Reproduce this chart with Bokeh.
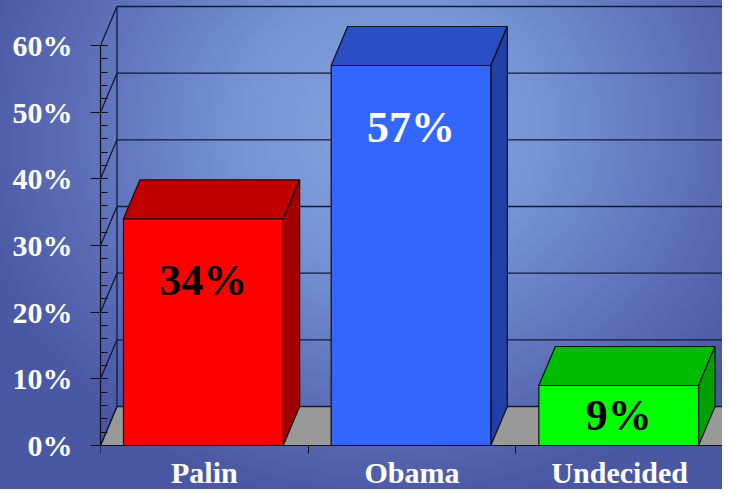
import numpy as np
from bokeh.plotting import figure
from bokeh.models import Range1d, SingleIntervalTicker, FixedTicker, PrintfTickFormatter, ColumnDataSource
from bokeh.core.properties import value
from bokeh.embed import file_html
from bokeh.resources import INLINE

# ---- data ----
categories = ["Palin", "Obama", "Undecided"]
values = [34, 57, 9]
value_labels = ["34%", "57%", "9%"]
y_ticks = [0, 10, 20, 30, 40, 50, 60]

# ---- styles ----
front_colors = ["#FF0000", "#3366FF", "#00FF00"]
top_colors = ["#C00000", "#2A4FC4", "#00BB00"]
side_colors = ["#A00000", "#2240A8", "#00A000"]
label_colors = ["black", "white", "black"]
FONT = "Liberation Serif"

# 3D geometry (depth offset in data units), bar layout
DX = 0.0793
DY = 5.85
BAR_OFF = 0.1106
BAR_W = 0.769
X_END = 2.995
Y_START = -6.6
Y_END = 66.75
Y_MAX = 60

p = figure(width=722, height=489, output_backend="svg", toolbar_location=None,
           x_range=Range1d(0, X_END), y_range=Range1d(Y_START, Y_END),
           min_border_left=100, min_border_right=0, min_border_top=0, min_border_bottom=0)
p.background_fill_color = None
p.border_fill_color = None
p.outline_line_color = None
p.xgrid.visible = False
p.ygrid.visible = False
p.styles = {"background": "radial-gradient(ellipse 430px 380px at 390px 130px, #86a4df 0%, #7694d5 35%, #5b6cb5 75%, #4a57a3 100%)"}

idx = np.arange(len(categories))
vals = np.array(values, dtype=float)
x0 = idx + BAR_OFF
x1 = x0 + BAR_W

# floor
floor_x = [0, X_END + 0.2, X_END + 0.2 + DX, DX]
floor_y = [0, 0, DY, DY]
p.patch(floor_x, floor_y, fill_color="#999999", line_color="#111111", line_width=1.2)

# walls: back horizontal gridlines, side diagonals, back vertical
yt = np.array(y_ticks, dtype=float)
p.segment(x0=[DX] * len(yt), y0=yt + DY, x1=[X_END + 0.5] * len(yt), y1=yt + DY,
          line_color="#111a3a", line_width=1.3)
p.segment(x0=[0] * len(yt), y0=yt, x1=[DX] * len(yt), y1=yt + DY,
          line_color="#111a3a", line_width=1.3)
p.segment(x0=[DX], y0=[DY], x1=[DX], y1=[Y_MAX + DY], line_color="#111a3a", line_width=1.3)

# bars
tops_x = [[a, b, b + DX, a + DX] for a, b in zip(x0, x1)]
tops_y = [[v, v, v + DY, v + DY] for v in vals]
sides_x = [[b, b + DX, b + DX, b] for b in x1]
sides_y = [[0, DY, v + DY, v] for v in vals]
p.patches(tops_x, tops_y, fill_color=top_colors, line_color="#111111", line_width=1.2)
p.patches(sides_x, sides_y, fill_color=side_colors, line_color="#111111", line_width=1.2)
p.quad(left=x0, right=x1, bottom=0, top=vals, fill_color=front_colors,
       line_color="#111111", line_width=1.2)

# value labels
lab_src = ColumnDataSource(dict(x=(x0 + x1) / 2, y=np.maximum(vals - 9.3, vals / 2),
                                text=value_labels, color=label_colors))
p.text(x="x", y="y", text="text", source=lab_src, text_color="color",
       text_font=value(FONT), text_font_style="bold", text_font_size="44px",
       text_align="center", text_baseline="middle")

# y axis
ya = p.yaxis[0]
ya.bounds = (0, Y_MAX)
ya.ticker = SingleIntervalTicker(interval=10, num_minor_ticks=5)
ya.formatter = PrintfTickFormatter(format="%d%%")
ya.axis_line_color = "#111111"
ya.axis_line_width = 1.2
ya.major_tick_line_color = "#111111"
ya.minor_tick_line_color = "#111111"
ya.major_tick_out = 10
ya.major_tick_in = 7
ya.minor_tick_out = 0
ya.minor_tick_in = 7
ya.major_label_text_font = FONT
ya.major_label_text_font_style = "bold"
ya.major_label_text_font_size = "30px"
ya.major_label_text_color = "white"
ya.major_label_standoff = 18

# x axis: fixed at y=0, labels at category centers, ticks at boundaries
xa = p.xaxis[0]
xa.fixed_location = 0
centers = [float(i) + 0.5 for i in idx]
xa.ticker = FixedTicker(ticks=centers, minor_ticks=[float(i) for i in range(len(categories) + 1)])
xa.major_label_overrides = {c: name for c, name in zip(centers, categories)}
xa.axis_line_color = "#111111"
xa.axis_line_width = 1.2
xa.major_tick_out = 0
xa.major_tick_in = 0
xa.minor_tick_out = 8
xa.minor_tick_in = 0
xa.minor_tick_line_color = "#111111"
xa.major_label_text_font = FONT
xa.major_label_text_font_style = "bold"
xa.major_label_text_font_size = "30px"
xa.major_label_text_color = "white"
xa.major_label_standoff = 2

open("out.html", "w").write(file_html(p, INLINE))
